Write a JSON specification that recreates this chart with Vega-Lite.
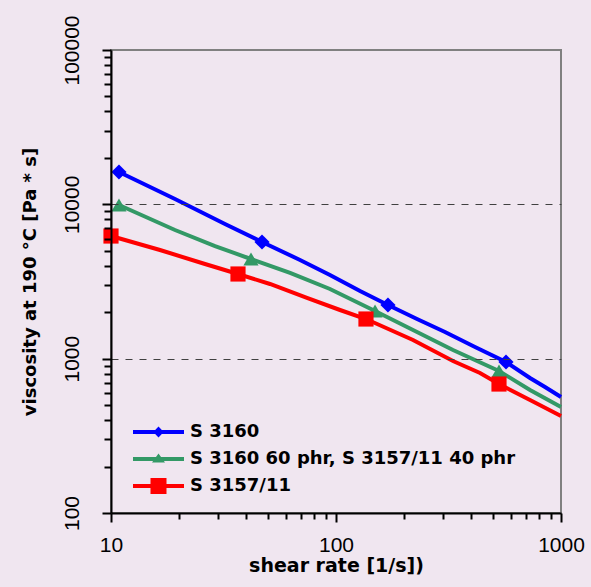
{
  "$schema": "https://vega.github.io/schema/vega-lite/v6.json",
  "width": 450,
  "height": 463,
  "autosize": {"type": "none"},
  "padding": {"left": 111, "top": 50, "right": 30, "bottom": 74},
  "background": "#F0E6F0",
  "config": {"view": {"stroke": "#808080", "strokeWidth": 2, "fill": "#F0E6F0"}},
  "data": {"values": [
    {"series": "S 3160", "x": 10.85, "y": 16200, "m": 1},
    {"series": "S 3160", "x": 19.25, "y": 10830, "m": 0},
    {"series": "S 3160", "x": 32.1, "y": 7458, "m": 0},
    {"series": "S 3160", "x": 46.9, "y": 5702, "m": 1},
    {"series": "S 3160", "x": 69.2, "y": 4359, "m": 0},
    {"series": "S 3160", "x": 94.0, "y": 3485, "m": 0},
    {"series": "S 3160", "x": 127.9, "y": 2745, "m": 0},
    {"series": "S 3160", "x": 170.2, "y": 2227, "m": 1},
    {"series": "S 3160", "x": 229.1, "y": 1807, "m": 0},
    {"series": "S 3160", "x": 305.1, "y": 1489, "m": 0},
    {"series": "S 3160", "x": 414.8, "y": 1190, "m": 0},
    {"series": "S 3160", "x": 569.6, "y": 951, "m": 1},
    {"series": "S 3160", "x": 728.2, "y": 749, "m": 0},
    {"series": "S 3160", "x": 849, "y": 655, "m": 0},
    {"series": "S 3160", "x": 1000, "y": 564, "m": 0},
    {"series": "S 3160 60 phr, S 3157/11 40 phr", "x": 10.85, "y": 9902, "m": 1},
    {"series": "S 3160 60 phr, S 3157/11 40 phr", "x": 19.25, "y": 6818, "m": 0},
    {"series": "S 3160 60 phr, S 3157/11 40 phr", "x": 29.0, "y": 5370, "m": 0},
    {"series": "S 3160 60 phr, S 3157/11 40 phr", "x": 41.9, "y": 4424, "m": 1},
    {"series": "S 3160 60 phr, S 3157/11 40 phr", "x": 62.5, "y": 3591, "m": 0},
    {"series": "S 3160 60 phr, S 3157/11 40 phr", "x": 94.0, "y": 2828, "m": 0},
    {"series": "S 3160 60 phr, S 3157/11 40 phr", "x": 149.1, "y": 2036, "m": 1},
    {"series": "S 3160 60 phr, S 3157/11 40 phr", "x": 219.9, "y": 1534, "m": 0},
    {"series": "S 3160 60 phr, S 3157/11 40 phr", "x": 331.1, "y": 1138, "m": 0},
    {"series": "S 3160 60 phr, S 3157/11 40 phr", "x": 530.2, "y": 832, "m": 1},
    {"series": "S 3160 60 phr, S 3157/11 40 phr", "x": 728.2, "y": 627, "m": 0},
    {"series": "S 3160 60 phr, S 3157/11 40 phr", "x": 1000, "y": 486, "m": 0},
    {"series": "S 3157/11", "x": 10, "y": 6233, "m": 1},
    {"series": "S 3157/11", "x": 16.51, "y": 5059, "m": 0},
    {"series": "S 3157/11", "x": 26.17, "y": 4106, "m": 0},
    {"series": "S 3157/11", "x": 36.68, "y": 3537, "m": 1},
    {"series": "S 3157/11", "x": 50.9, "y": 3047, "m": 0},
    {"series": "S 3157/11", "x": 74.3, "y": 2473, "m": 0},
    {"series": "S 3157/11", "x": 104.2, "y": 2067, "m": 0},
    {"series": "S 3157/11", "x": 135.9, "y": 1807, "m": 1},
    {"series": "S 3157/11", "x": 219.9, "y": 1321, "m": 0},
    {"series": "S 3157/11", "x": 331.1, "y": 966, "m": 0},
    {"series": "S 3157/11", "x": 436.5, "y": 807, "m": 0},
    {"series": "S 3157/11", "x": 530.2, "y": 685, "m": 1},
    {"series": "S 3157/11", "x": 728.2, "y": 540, "m": 0},
    {"series": "S 3157/11", "x": 1000, "y": 425, "m": 0}
  ]},
  "encoding": {
    "x": {
      "field": "x", "type": "quantitative",
      "scale": {"type": "log", "domain": [10, 1000], "nice": false},
      "axis": {
        "title": "shear rate [1/s])",
        "values": [10, 20, 30, 40, 50, 60, 70, 80, 90, 100, 200, 300, 400, 500, 600, 700, 800, 900, 1000],
        "labelExpr": "indexof([10,100,1000], datum.value) >= 0 ? '' + datum.value : ''",
        "grid": false, "zindex": 1,
        "domainColor": "black", "domainWidth": 2,
        "tickColor": "black", "tickWidth": 2,
        "tickSize": {"condition": {"test": "indexof([10,100,1000], datum.value) >= 0", "value": 9}, "value": 6},
        "labelFont": "Liberation Sans", "labelFontSize": 21, "labelColor": "black",
        "labelPadding": 12, "labelFlush": false, "labelOverlap": false,
        "titleFont": "DejaVu Sans", "titleFontSize": 19, "titleFontWeight": "bold", "titleColor": "black",
        "titlePadding": 1
      }
    },
    "y": {
      "field": "y", "type": "quantitative",
      "scale": {"type": "log", "domain": [100, 100000], "nice": false},
      "axis": {
        "title": "viscosity  at 190 °C [Pa * s]",
        "values": [100, 200, 300, 400, 500, 600, 700, 800, 900, 1000, 2000, 3000, 4000, 5000, 6000, 7000, 8000, 9000, 10000, 20000, 30000, 40000, 50000, 60000, 70000, 80000, 90000, 100000],
        "labelExpr": "indexof([100,1000,10000,100000], datum.value) >= 0 ? '' + datum.value : ''",
        "grid": true, "gridDash": [7, 7], "gridColor": "#404040", "gridWidth": 1,
        "gridOpacity": {"condition": {"test": "datum.value == 1000 || datum.value == 10000", "value": 1}, "value": 0},
        "zindex": 1,
        "domainColor": "black", "domainWidth": 2,
        "tickColor": "black", "tickWidth": 2,
        "tickSize": {"condition": {"test": "indexof([100,1000,10000,100000], datum.value) >= 0", "value": 9}, "value": 7},
        "labelFont": "Liberation Sans", "labelFontSize": 21, "labelColor": "black",
        "labelAngle": -90, "labelAlign": "center", "labelBaseline": "alphabetic",
        "labelPadding": 24, "labelFlush": false, "labelOverlap": false,
        "titleFont": "DejaVu Sans", "titleFontSize": 18, "titleFontWeight": "bold", "titleColor": "black",
        "titlePadding": 22
      }
    }
  },
  "layer": [
    {
      "mark": {"type": "line", "strokeWidth": 4},
      "encoding": {
        "color": {"field": "series", "type": "nominal", "legend": null,
          "scale": {"domain": ["S 3160", "S 3160 60 phr, S 3157/11 40 phr", "S 3157/11"], "range": ["#0000FF", "#339966", "#FF0000"]}}
      }
    },
    {
      "transform": [{"filter": "datum.m == 1"}],
      "mark": {"type": "point", "filled": true, "opacity": 1},
      "encoding": {
        "color": {"field": "series", "type": "nominal", "legend": null,
          "scale": {"domain": ["S 3160", "S 3160 60 phr, S 3157/11 40 phr", "S 3157/11"], "range": ["#0000FF", "#339966", "#FF0000"]}},
        "shape": {"field": "series", "type": "nominal", "legend": null,
          "scale": {"domain": ["S 3160", "S 3160 60 phr, S 3157/11 40 phr", "S 3157/11"], "range": ["diamond", "triangle-up", "square"]}},
        "size": {"field": "series", "type": "nominal", "legend": null,
          "scale": {"domain": ["S 3160", "S 3160 60 phr, S 3157/11 40 phr", "S 3157/11"], "range": [230, 230, 280]}}
      }
    },
    {
      "transform": [{"filter": "datum.m == 1"}],
      "mark": {"type": "point", "filled": true, "opacity": 0},
      "encoding": {
        "color": {"field": "series", "type": "nominal",
          "scale": {"domain": ["S 3160", "S 3160 60 phr, S 3157/11 40 phr", "S 3157/11"], "range": ["#0000FF", "#339966", "#FF0000"]},
          "legend": {
            "title": null, "orient": "bottom-left", "offset": 18, "padding": 0,
            "symbolSize": 100, "symbolStrokeWidth": 0, "symbolOpacity": 1,
            "labelFont": "DejaVu Sans", "labelFontSize": 18, "labelFontWeight": "bold", "labelColor": "black",
            "labelOffset": 43, "labelLimit": 600, "rowPadding": 9
          }
        },
        "shape": {"field": "series", "type": "nominal",
          "scale": {"domain": ["S 3160", "S 3160 60 phr, S 3157/11 40 phr", "S 3157/11"],
            "range": [
              "M-1,-0.4H9.2V0.4H-1Z M4.1,-1.1L5.15,0L4.1,1.1L3.05,0Z",
              "M-1,-0.4H9.2V0.4H-1Z M2.8,0.7L4.1,-1.1L5.4,0.7Z",
              "M-1,-0.4H9.2V0.4H-1Z M2.5,-1.6H5.7V1.6H2.5Z"
            ]},
          "legend": {
            "title": null, "orient": "bottom-left", "offset": 18, "padding": 0,
            "symbolSize": 100, "symbolStrokeWidth": 0, "symbolOpacity": 1,
            "labelFont": "DejaVu Sans", "labelFontSize": 18, "labelFontWeight": "bold", "labelColor": "black",
            "labelOffset": 43, "labelLimit": 600, "rowPadding": 9
          }
        }
      }
    }
  ],
  "resolve": {"scale": {"shape": "independent", "color": "independent", "size": "independent"}}
}
